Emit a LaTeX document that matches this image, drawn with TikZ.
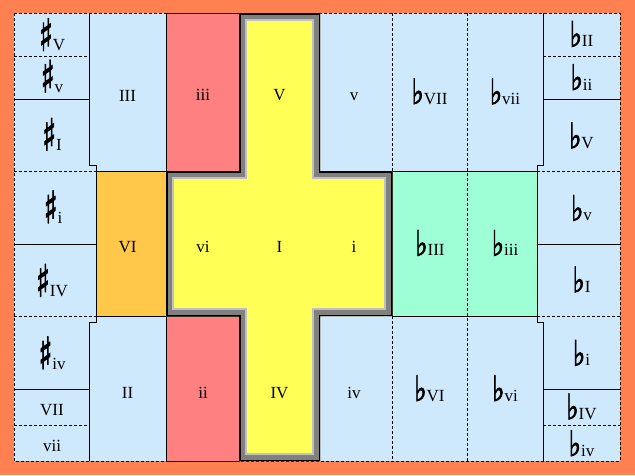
\documentclass[tikz,border=0pt]{standalone}
\usepackage{graphicx}
\usepackage{fontspec}
\setmainfont{Liberation Serif}
\newfontfamily\accfont[FakeBold=2.5]{DejaVu Sans}
\usetikzlibrary{calc}
\definecolor{bgOrange}{RGB}{255,128,80}
\definecolor{cellBlue}{RGB}{206,232,252}
\definecolor{minorRed}{RGB}{255,128,128}
\definecolor{sixOrange}{RGB}{255,200,75}
\definecolor{flatGreen}{RGB}{158,255,214}
\definecolor{tonicYellow}{RGB}{255,255,85}
\definecolor{frameGray}{RGB}{128,128,128}
\definecolor{frameLight}{RGB}{192,192,192}
\newcommand{\sharpsign}{\raisebox{0pt}{\scalebox{1.1}[1.7]{\accfont\fontsize{26}{26}\selectfont ♯}}}
\newcommand{\flatsign}{\raisebox{0pt}{\scalebox{1}[1.35]{\accfont\fontsize{26}{26}\selectfont ♭}}}
\tikzset{
  cellline/.style={draw=black, line width=1pt},
  dashline/.style={draw=black, line width=1pt, dash pattern=on 3pt off 2pt},
  lbl/.style={inner sep=0pt, anchor=base, font=\fontsize{17}{17}\selectfont}
}
\begin{document}
\begin{tikzpicture}[x=1pt, y=-1pt]
  \useasboundingbox (0,0) rectangle (635,475);
  \fill[bgOrange] (0,0) rectangle (635,475);
  % cells
  \fill[cellBlue] (14,13) rectangle (620,461);
  \fill[minorRed] (166,13) rectangle (239,171);
  \fill[minorRed] (166,316) rectangle (239,461);
  \fill[sixOrange] (96,171) rectangle (166,316);
  \fill[flatGreen] (392,171) rectangle (537,316);
  % dashed borders
  \draw[dashline] (14,13) rectangle (620,461);
  \draw[dashline] (14,56.7) -- (89,56.7);
  \draw[dashline] (14,171) -- (96,171);
  \draw[dashline] (14,316) -- (96,316);
  \draw[dashline] (14,425) -- (89,425);
  \draw[dashline] (543,56.7) -- (620,56.7);
  \draw[dashline] (537,171) -- (620,171);
  \draw[dashline] (537,316) -- (620,316);
  \draw[dashline] (543,425) -- (620,425);
  \draw[dashline] (392,13) -- (392,171);
  \draw[dashline] (392,316) -- (392,461);
  \draw[dashline] (467,13) -- (467,461);
  % solid borders
  \draw[cellline] (14,99.3) -- (89,99.3);
  \draw[cellline] (14,244) -- (96,244);
  \draw[cellline] (14,389) -- (89,389);
  \draw[cellline] (543,99.3) -- (620,99.3);
  \draw[cellline] (537,244) -- (620,244);
  \draw[cellline] (543,389) -- (620,389);
  \draw[cellline] (89,13) -- (89,165) -- (96,165) -- (96,322) -- (89,322) -- (89,461);
  \draw[cellline] (543,13) -- (543,165) -- (537,165) -- (537,322) -- (543,322) -- (543,461);
  \draw[cellline] (166,13) rectangle (239,171);
  \draw[cellline] (166,316) rectangle (239,461);
  \draw[cellline] (96,171) rectangle (166,316);
  \draw[cellline] (392,171) rectangle (537,316);
  % tonic cross
  \def\crosspath{(239,13) -- (320,13) -- (320,171) -- (392,171) -- (392,316)
    -- (320,316) -- (320,461) -- (239,461) -- (239,316) -- (166,316)
    -- (166,171) -- (239,171) -- cycle}
  \fill[tonicYellow] \crosspath;
  \begin{scope}
    \clip \crosspath;
    \draw[frameLight, line width=16pt] \crosspath;
    \draw[frameGray, line width=12.6pt] \crosspath;
    \draw[black, line width=3pt] \crosspath;
  \end{scope}
  % left column
  \node[lbl] (shV) at (52,50.7) {\sharpsign V};
  \node[lbl] (shv) at (52,92.3) {\sharpsign v};
  \node[lbl] (shI) at (52,150.5) {\sharpsign I};
  \node[lbl] (shi) at (53,223) {\sharpsign i};
  \node[lbl] (shIV) at (52,296.5) {\sharpsign IV};
  \node[lbl] (shiv) at (52,369) {\sharpsign iv};
  \node[lbl] (VII) at (52,415.7) {VII};
  \node[lbl] (vii) at (52,451.7) {vii};
  % right column
  \node[lbl] (flII) at (581.5,46.7) {\flatsign II};
  \node[lbl] (flii) at (581.5,90) {\flatsign ii};
  \node[lbl] (flV) at (581.5,148.3) {\flatsign V};
  \node[lbl] (flv) at (581.5,220.7) {\flatsign v};
  \node[lbl] (flI) at (581.5,292.3) {\flatsign I};
  \node[lbl] (fli) at (581.5,365.7) {\flatsign i};
  \node[lbl] (flIV) at (581.5,419.3) {\flatsign IV};
  \node[lbl] (fliv) at (581.5,456) {\flatsign iv};
  % top row
  \node[lbl] (III) at (127.5,101) {III};
  \node[lbl] (iii) at (203,100.7) {iii};
  \node[lbl] (V) at (279.5,100) {V};
  \node[lbl] (v) at (354,100) {v};
  \node[lbl] (flVII) at (429.5,104) {\flatsign VII};
  \node[lbl] (flvii) at (505,104.3) {\flatsign vii};
  % middle row
  \node[lbl] (VI) at (127.5,252.7) {VI};
  \node[lbl] (vi) at (203,252.7) {vi};
  \node[lbl] (I) at (279.5,252.7) {I};
  \node[lbl] (i) at (354,252.7) {i};
  \node[lbl] (flIII) at (430,255.7) {\flatsign III};
  \node[lbl] (fliii) at (505,255.7) {\flatsign iii};
  % bottom row
  \node[lbl] (II) at (127.5,398.3) {II};
  \node[lbl] (ii) at (203,398.3) {ii};
  \node[lbl] (IV) at (279.5,398.3) {IV};
  \node[lbl] (iv) at (354,398.3) {iv};
  \node[lbl] (flVI) at (429.5,401) {\flatsign VI};
  \node[lbl] (flvi) at (505,401) {\flatsign vi};
\end{tikzpicture}
\end{document}
